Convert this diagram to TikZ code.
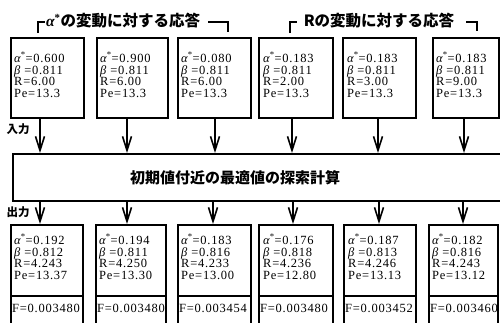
\documentclass[tikz,border=0pt]{standalone}
\usepackage{fontspec}
\setmainfont{Liberation Serif}
\newfontfamily\jp{Noto Sans CJK JP}
\newfontfamily\valfont[LetterSpace=6]{Liberation Serif}
\usetikzlibrary{arrows.meta}
\tikzset{
  box/.style={draw, line width=1.8pt, inner sep=0pt, anchor=north west},
  divl/.style={line width=1.5pt},
  arr/.style={line width=1.6pt, -{Straight Barb[length=14pt,width=9pt,line width=1.6pt]}},
  vals/.style={anchor=north west, inner sep=0pt, align=left, font=\valfont\fontsize{12.5}{11.8}\selectfont},
  fval/.style={anchor=base west, inner sep=0pt, font=\valfont\fontsize{12.5}{13}\selectfont},
  hdr/.style={font=\jp\bfseries\fontsize{15.5}{16}\selectfont, inner sep=0pt},
  lbl/.style={font=\jp\bfseries\fontsize{11.5}{12}\selectfont, inner sep=0pt},
  brk/.style={line width=1.5pt},
}
\newcommand{\vv}[4]{{\itshape α}\textsuperscript{*}=#1\\{\itshape β} =#2\\R=#3\\Pe=#4}
\begin{document}
\begin{tikzpicture}[x=1pt,y=-1pt]
\useasboundingbox (0,0) rectangle (500,322);
\clip (0,0) rectangle (500,322);
% headers
\node[hdr] (h1) at (123,20.5) {{\rmfamily\itshape α}\textsuperscript{\rmfamily *}の変動に対する応答};
\node[hdr] (h2) at (379,20.5) {Rの変動に対する応答};
\draw[brk] (38,33) -- (38,22) -- (45,22);
\draw[brk] (208,22) -- (228,22) -- (228,32);
\draw[brk] (290,33) -- (290,22) -- (297,22);
\draw[brk] (466,22) -- (477,22) -- (477,31);
% top boxes
\node[box, minimum width=73, minimum height=80] (t1) at (10,37) {};
\node[box, minimum width=71, minimum height=80] (t2) at (96,37) {};
\node[box, minimum width=73, minimum height=80] (t3) at (177,37) {};
\node[box, minimum width=74, minimum height=80] (t4) at (258,37) {};
\node[box, minimum width=73, minimum height=80] (t5) at (342,37) {};
\node[box, minimum width=66, minimum height=80] (t6) at (432,37) {};
\node[vals] (v1) at ([xshift=4pt,yshift=-15pt]t1.north west) {\vv{0.600}{0.811}{6.00}{13.3}};
\node[vals] (v2) at ([xshift=4pt,yshift=-15pt]t2.north west) {\vv{0.900}{0.811}{6.00}{13.3}};
\node[vals] (v3) at ([xshift=4pt,yshift=-15pt]t3.north west) {\vv{0.080}{0.811}{6.00}{13.3}};
\node[vals] (v4) at ([xshift=5pt,yshift=-15pt]t4.north west) {\vv{0.183}{0.811}{2.00}{13.3}};
\node[vals] (v5) at ([xshift=5pt,yshift=-15pt]t5.north west) {\vv{0.183}{0.811}{3.00}{13.3}};
\node[vals] (v6) at ([xshift=4pt,yshift=-15pt]t6.north west) {\vv{0.183}{0.811}{9.00}{13.3}};
% labels
\node[lbl] (in) at (18,129) {入力};
\node[lbl] (out) at (18,212) {出力};
% big box
\node[box, minimum width=500, minimum height=47] (calc) at (12,153) {};
\node[hdr, font=\jp\bfseries\fontsize{15}{16}\selectfont] (ct) at (235,178) {初期値付近の最適値の探索計算};
% input arrows
\coordinate (a1) at (40,153);
\coordinate (a2) at (127,153);
\coordinate (a3) at (215,153);
\coordinate (a4) at (292,153);
\coordinate (a5) at (378,153);
\coordinate (a6) at (464,153);
\draw[arr] (a1 |- t1.south) -- (a1);
\draw[arr] (a2 |- t2.south) -- (a2);
\draw[arr] (a3 |- t3.south) -- (a3);
\draw[arr] (a4 |- t4.south) -- (a4);
\draw[arr] (a5 |- t5.south) -- (a5);
\draw[arr] (a6 |- t6.south) -- (a6);
% output boxes
\node[box, minimum width=72, minimum height=110] (o1) at (10,224) {};
\node[box, minimum width=70, minimum height=110] (o2) at (95,224) {};
\node[box, minimum width=73, minimum height=110] (o3) at (177,224) {};
\node[box, minimum width=74, minimum height=110] (o4) at (258,224) {};
\node[box, minimum width=72, minimum height=110] (o5) at (343,224) {};
\node[box, minimum width=69, minimum height=110] (o6) at (428,224) {};
\foreach \o in {o1,o2,o3,o4,o5,o6}{
  \draw[divl] ([yshift=-72pt]\o.north west) -- ([yshift=-72pt]\o.north east);
}
\node[vals] (w1) at ([xshift=4pt,yshift=-10pt]o1.north west) {\vv{0.192}{0.812}{4.243}{13.37}};
\node[vals] (w2) at ([xshift=4pt,yshift=-10pt]o2.north west) {\vv{0.194}{0.811}{4.250}{13.30}};
\node[vals] (w3) at ([xshift=4pt,yshift=-10pt]o3.north west) {\vv{0.183}{0.816}{4.233}{13.00}};
\node[vals] (w4) at ([xshift=5pt,yshift=-10pt]o4.north west) {\vv{0.176}{0.818}{4.236}{12.80}};
\node[vals] (w5) at ([xshift=5pt,yshift=-10pt]o5.north west) {\vv{0.187}{0.813}{4.246}{13.13}};
\node[vals] (w6) at ([xshift=4pt,yshift=-10pt]o6.north west) {\vv{0.182}{0.816}{4.243}{13.12}};
\node[fval] (f1) at ([xshift=2pt,yshift=-88pt]o1.north west) {F=0.003480};
\node[fval] (f2) at ([xshift=2pt,yshift=-88pt]o2.north west) {F=0.003480};
\node[fval] (f3) at ([xshift=2pt,yshift=-88pt]o3.north west) {F=0.003454};
\node[fval] (f4) at ([xshift=2pt,yshift=-88pt]o4.north west) {F=0.003480};
\node[fval] (f5) at ([xshift=2pt,yshift=-88pt]o5.north west) {F=0.003452};
\node[fval] (f6) at ([xshift=2pt,yshift=-88pt]o6.north west) {F=0.003460};
% output arrows
\coordinate (b1) at (40,224);
\coordinate (b2) at (127,224);
\coordinate (b3) at (213,224);
\coordinate (b4) at (293,224);
\coordinate (b5) at (379,224);
\coordinate (b6) at (463,224);
\draw[arr] (b1 |- calc.south) -- (b1);
\draw[arr] (b2 |- calc.south) -- (b2);
\draw[arr] (b3 |- calc.south) -- (b3);
\draw[arr] (b4 |- calc.south) -- (b4);
\draw[arr] (b5 |- calc.south) -- (b5);
\draw[arr] (b6 |- calc.south) -- (b6);
\end{tikzpicture}
\end{document}
